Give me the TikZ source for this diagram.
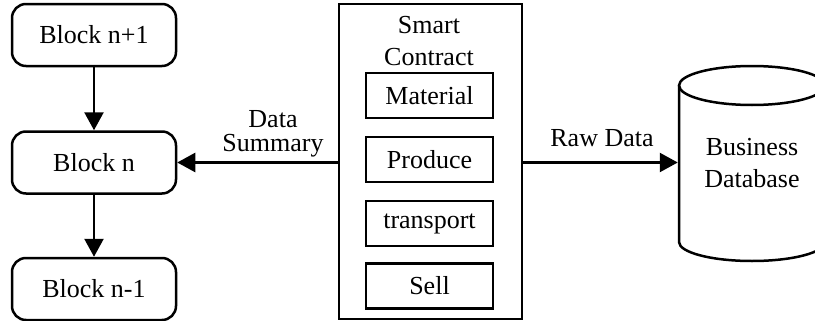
\documentclass[tikz,border=0pt]{standalone}
\usepackage{fontspec}
\setmainfont{Liberation Serif}
\usetikzlibrary{arrows.meta}
\begin{document}
\begin{tikzpicture}[x=0.5pt,y=-0.5pt,
  line width=1.25pt,
  every node/.style={font=\fontsize{13pt}{16pt}\selectfont, inner sep=0pt},
  blockbox/.style={draw, rounded corners=7pt, minimum width=82pt, minimum height=31pt},
  funcbox/.style={draw, minimum width=63.5pt, minimum height=22.5pt},
  arr/.style={-{Triangle[length=9pt,width=9.5pt]}}
]
\path[use as bounding box, clip] (0,0) rectangle (815,321);
% blockchain
\node[blockbox] (bn1) at (94,35) {Block n+1};
\node[blockbox] (bn)  at (94,162.5) {Block n};
\node[blockbox] (bnm) at (94,289) {Block n-1};
\draw[arr] (bn1) -- (bn);
\draw[arr] (bn) -- (bnm);
% smart contract
\node[draw, minimum width=91.5pt, minimum height=157.5pt] (sc) at (430.5,161.5) {};
\node[align=center] (sct) at (429,41) {Smart\\Contract};
\node[funcbox] (mat) at (429.5,95.5) {Material};
\node[funcbox] (pro) at (429.5,159.5) {Produce};
\node[funcbox] (tra) at (429.5,223.5) {transport};
\node[funcbox] (sel) at (429.5,286) {Sell};
% database
\draw (752,85.5) ellipse [x radius=73, y radius=19.5];
\draw (679,85.5) -- (679,242) arc[start angle=180, end angle=0, x radius=73, y radius=19] -- (825,85.5);
\node[align=center, minimum width=73pt] (db) at (752,163) {Business\\Database};
% connectors
\draw[arr] (bn.east -| sc.west) -- (bn.east);
\node[align=center, font=\fontsize{13pt}{12pt}\selectfont] (ds) at (273,134) {Data\\Summary};
\draw[arr] (bn.east -| sc.east) -- (bn.east -| db.west);
\node (rd) at (602,138) {Raw Data};
\end{tikzpicture}
\end{document}
